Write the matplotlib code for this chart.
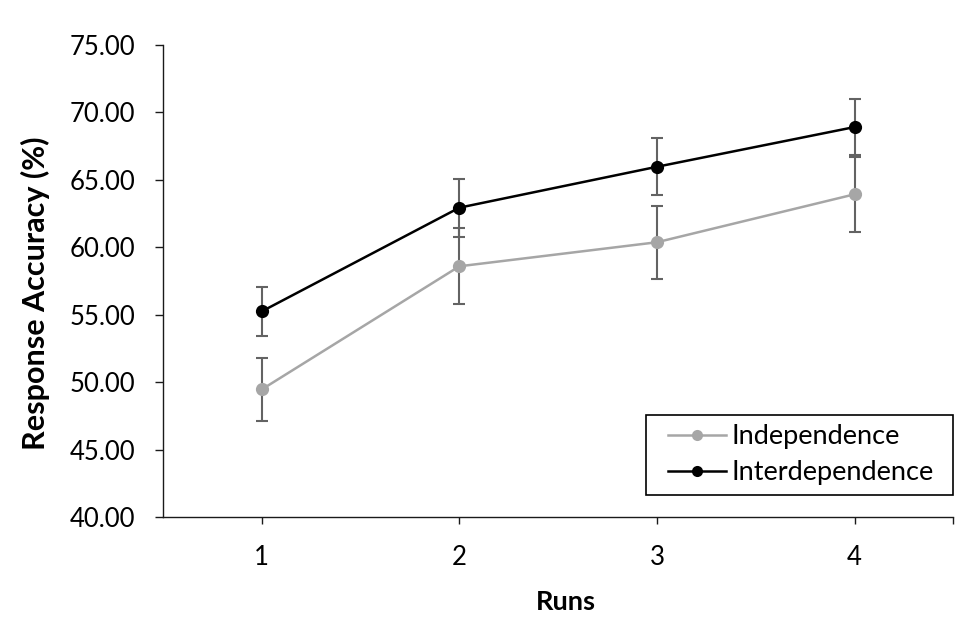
import matplotlib
matplotlib.use("Agg")
import matplotlib.pyplot as plt
from matplotlib.ticker import FixedLocator, FormatStrFormatter
from matplotlib.legend_handler import HandlerLine2D

plt.rcParams['font.family'] = ['Lato', 'DejaVu Sans']

runs = [1, 2, 3, 4]
run_labels = ['1', '2', '3', '4']
independence = [49.47, 58.59, 60.37, 63.92]
independence_err = [2.32, 2.82, 2.72, 2.77]
interdependence = [55.25, 62.93, 65.96, 68.90]
interdependence_err = [1.82, 2.15, 2.11, 2.10]
y_ticks = [40, 45, 50, 55, 60, 65, 70, 75]

W, H = 969, 617
fig = plt.figure(figsize=(W / 100, H / 100), dpi=100)
ax_left, ax_right, ax_top, ax_bottom = 163, 953.3, 44.7, 517.3
ax = fig.add_axes([ax_left / W, (H - ax_bottom) / H, (ax_right - ax_left) / W, (ax_bottom - ax_top) / H])

err_color = '#636363'
grey = '#a6a6a6'

ax.errorbar(runs, independence, yerr=independence_err, fmt='none', ecolor=err_color,
            elinewidth=1.5, capsize=4.5, capthick=1.5, zorder=2)
ax.errorbar(runs, interdependence, yerr=interdependence_err, fmt='none', ecolor=err_color,
            elinewidth=1.5, capsize=4.5, capthick=1.5, zorder=2)

ax.plot(runs, independence, color=grey, lw=1.8, marker='o', markersize=9.5,
        markeredgewidth=0, zorder=3)
ax.plot(runs, interdependence, color='black', lw=1.8, marker='o', markersize=9.5,
        markeredgewidth=0, zorder=4)

ax.set_xlim(0.5, 4.5)
ax.set_ylim(40, 75)
ax.set_xticks(runs)
ax.set_xticklabels(run_labels)
ax.xaxis.set_minor_locator(FixedLocator([4.5]))
ax.set_yticks(y_ticks)
ax.yaxis.set_major_formatter(FormatStrFormatter('%.2f'))

for s in ['top', 'right']:
    ax.spines[s].set_visible(False)
for s in ['left', 'bottom']:
    ax.spines[s].set_linewidth(1.0)
    ax.spines[s].set_color('#1a1a1a')

ax.tick_params(axis='y', which='major', direction='out', length=6, width=1.0,
               colors='#1a1a1a', labelsize=18.5, pad=14, labelcolor='black')
ax.tick_params(axis='x', which='both', direction='out', length=5, width=1.0,
               colors='#1a1a1a', labelsize=18.5, pad=15, labelcolor='black')

axw = ax_right - ax_left
axh = ax_bottom - ax_top
ax.set_xlabel('Runs', fontsize=19.5, fontweight='bold')
ax.xaxis.set_label_coords((566 - ax_left) / axw, (ax_bottom - 590) / axh)
ax.set_ylabel('Response Accuracy (%)', fontsize=22, fontweight='bold')
ax.yaxis.set_label_coords((50 - ax_left) / axw, (ax_bottom - 293.5) / axh)

leg_handles = [
    plt.Line2D([], [], color=grey, lw=1.8, marker='o', markersize=8, markeredgewidth=0),
    plt.Line2D([], [], color='black', lw=1.8, marker='o', markersize=8, markeredgewidth=0),
]
fs = 19.5
leg = fig.legend(leg_handles, ['Independence', 'Interdependence'], loc='upper left',
                 bbox_to_anchor=(646 / W, (H - 494) / H, 307 / W, 79 / H), mode='expand',
                 fontsize=fs, frameon=True, fancybox=False, edgecolor='black', framealpha=1,
                 borderaxespad=0, handlelength=2.6, handletextpad=0.19, borderpad=0.35,
                 labelspacing=0.39,
                 handler_map={plt.Line2D: HandlerLine2D(xpad=0.47)})
leg.get_frame().set_linewidth(1.2)

fig.savefig('out.png', dpi=100)
